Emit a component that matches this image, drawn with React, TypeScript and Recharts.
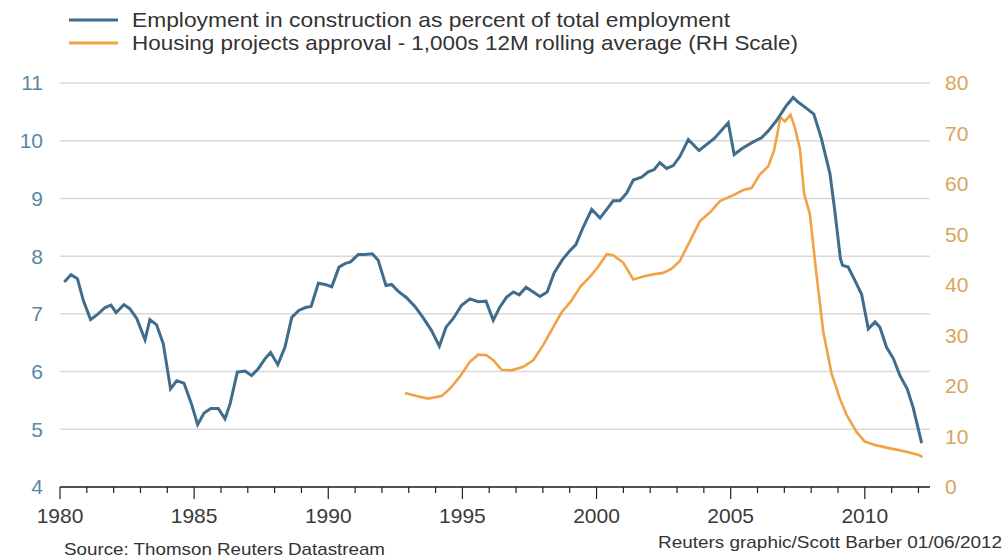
import { ComposedChart, Line, XAxis, YAxis, CartesianGrid } from 'recharts';

const BLUE = '#3f6d8b';
const ORANGE = '#f2a245';
const FONT = '"Liberation Sans", Arial, sans-serif';

// Employment in construction, % of total employment
const employmentYears = [
    1980.16, 1980.41, 1980.65, 1980.87, 1981.14, 1981.4, 1981.68, 1981.9, 1982.09, 1982.38,
    1982.6, 1982.86, 1983.17, 1983.35, 1983.6, 1983.85, 1984.12, 1984.35, 1984.62, 1984.9,
    1985.13, 1985.37, 1985.62, 1985.9, 1986.15, 1986.34, 1986.61, 1986.9, 1987.14, 1987.39,
    1987.64, 1987.85, 1988.12, 1988.39, 1988.64, 1988.9, 1989.15, 1989.36, 1989.63, 1989.88,
    1990.13, 1990.4, 1990.62, 1990.83, 1991.12, 1991.37, 1991.64, 1991.86, 1992.15, 1992.36,
    1992.61, 1992.92, 1993.23, 1993.54, 1993.85, 1994.14, 1994.39, 1994.66, 1994.97, 1995.28,
    1995.59, 1995.88, 1996.15, 1996.4, 1996.65, 1996.9, 1997.12, 1997.37, 1997.64, 1997.89,
    1998.16, 1998.42, 1998.73, 1998.98, 1999.23, 1999.5, 1999.82, 2000.13, 2000.38, 2000.62,
    2000.87, 2001.12, 2001.37, 2001.68, 2001.93, 2002.15, 2002.36, 2002.61, 2002.86, 2003.11,
    2003.42, 2003.82, 2004.39, 2004.91, 2005.13, 2005.44, 2005.84, 2006.15, 2006.4, 2006.71,
    2007.08, 2007.33, 2007.51, 2007.83, 2008.1, 2008.38, 2008.7, 2008.88, 2009.09, 2009.17,
    2009.38, 2009.63, 2009.88, 2010.13, 2010.38, 2010.56, 2010.81, 2011.06, 2011.31, 2011.58,
    2011.8, 2012.12,
];
const employmentShare = [
    7.55, 7.68, 7.61, 7.23, 6.9, 6.99, 7.11, 7.15, 7.02, 7.16,
    7.09, 6.92, 6.55, 6.9, 6.81, 6.48, 5.7, 5.84, 5.8, 5.44,
    5.08, 5.28, 5.36, 5.36, 5.18, 5.44, 5.99, 6.01, 5.93, 6.05,
    6.22, 6.33, 6.12, 6.43, 6.94, 7.06, 7.11, 7.13, 7.53, 7.51,
    7.47, 7.81, 7.87, 7.9, 8.03, 8.03, 8.04, 7.93, 7.49, 7.51,
    7.39, 7.28, 7.13, 6.93, 6.71, 6.44, 6.77, 6.92, 7.15, 7.26,
    7.21, 7.22, 6.89, 7.12, 7.29, 7.38, 7.33, 7.46, 7.38, 7.3,
    7.38, 7.71, 7.94, 8.08, 8.2, 8.5, 8.81, 8.66, 8.81, 8.96,
    8.96, 9.09, 9.32, 9.37, 9.46, 9.5, 9.62, 9.52, 9.57, 9.73,
    10.02, 9.83, 10.04, 10.31, 9.76, 9.87, 9.98, 10.05, 10.17, 10.35,
    10.61, 10.75, 10.67, 10.56, 10.46, 10.04, 9.43, 8.79, 7.96, 7.84,
    7.81, 7.58, 7.34, 6.74, 6.86, 6.77, 6.42, 6.23, 5.93, 5.7,
    5.38, 4.76,
];

// Housing projects approval, 1,000s, 12M rolling average (right scale)
const housingYears = [
    1992.86, 1993.29, 1993.72, 1994.22, 1994.54, 1994.91, 1995.28, 1995.59, 1995.9, 1996.15,
    1996.46, 1996.83, 1997.27, 1997.64, 1998.01, 1998.39, 1998.7, 1999.05, 1999.4, 1999.75,
    2000.06, 2000.38, 2000.62, 2001.0, 2001.37, 2001.74, 2002.1, 2002.48, 2002.79, 2003.1,
    2003.48, 2003.85, 2004.23, 2004.6, 2005.1, 2005.47, 2005.78, 2006.09, 2006.4, 2006.61,
    2006.76, 2006.85, 2007.02, 2007.23, 2007.39, 2007.58, 2007.74, 2007.95, 2008.2, 2008.45,
    2008.76, 2009.07, 2009.32, 2009.69, 2010.0, 2010.38, 2010.81, 2011.18, 2011.62, 2011.99,
    2012.15,
];
const housingApprovals = [
    18.6, 18.0, 17.5, 18.0, 19.5, 21.9, 24.8, 26.2, 26.1, 25.1,
    23.2, 23.1, 23.8, 25.1, 28.1, 31.7, 34.6, 36.8, 39.7, 41.6,
    43.6, 46.1, 45.9, 44.4, 41.1, 41.7, 42.1, 42.4, 43.2, 44.7,
    48.7, 52.6, 54.4, 56.6, 57.8, 58.8, 59.2, 61.9, 63.5, 66.5,
    70.5, 73.2, 72.4, 73.7, 71.2, 67.0, 58.0, 54.1, 42.0, 30.8,
    22.5, 17.5, 14.3, 10.9, 9.0, 8.3, 7.8, 7.4, 6.9, 6.4,
    5.9,
];

const yearTicks = Array.from({ length: 33 }, (_, i) => 1980 + i);
const leftTicks = [4, 5, 6, 7, 8, 9, 10, 11];
const rightTicks = [0, 10, 20, 30, 40, 50, 60, 70, 80];

const employment = employmentYears.map((year, i) => ({ year, share: employmentShare[i] }));
const housing = housingYears.map((year, i) => ({ year, approvals: housingApprovals[i] }));

// yearly minor ticks, longer ones with a label every 5 years
const YearTick = (props: any) => {
    const { x, y, payload } = props;
    const major = payload.value % 5 === 0;
    return (
        <g>
            <line x1={x} y1={y} x2={x} y2={y + (major ? 12 : 6)} stroke="#222" strokeWidth={1.2} />
            {major && (
                <text x={x} y={y + 36} textAnchor="middle" fill="#3a3a3a" fontSize={21} fontFamily={FONT}>
                    {payload.value}
                </text>
            )}
        </g>
    );
};

export default function App() {
    return (
        <div style={{ position: 'absolute', left: 0, top: 0, width: 1006, height: 560, background: '#fff' }}>
            <ComposedChart width={1006} height={560} margin={{ top: 83, right: 0, left: 0, bottom: 0 }}>
                <CartesianGrid yAxisId="left" vertical={false} stroke="#d9d9d9" strokeWidth={1.5} />
                <XAxis
                    dataKey="year"
                    type="number"
                    domain={[1980, 2012.43]}
                    ticks={yearTicks}
                    allowDataOverflow
                    height={73}
                    tickSize={0}
                    tickMargin={0}
                    tickLine={false}
                    axisLine={{ stroke: '#222', strokeWidth: 1.5 }}
                    tick={<YearTick />}
                    interval={0}
                />
                <YAxis
                    yAxisId="left"
                    domain={[4, 11]}
                    ticks={leftTicks}
                    width={60}
                    tickSize={0}
                    tickMargin={17}
                    tickLine={false}
                    axisLine={false}
                    tick={{ fill: '#5887a6', fontSize: 21, fontFamily: FONT }}
                    interval={0}
                />
                <YAxis
                    yAxisId="right"
                    orientation="right"
                    domain={[0, 80]}
                    ticks={rightTicks}
                    width={76}
                    tickSize={0}
                    tickMargin={15}
                    tickLine={false}
                    axisLine={false}
                    tick={{ fill: '#d8a55e', fontSize: 21, fontFamily: FONT }}
                    interval={0}
                />
                <Line
                    yAxisId="right"
                    data={housing}
                    dataKey="approvals"
                    type="linear"
                    stroke={ORANGE}
                    strokeWidth={2.6}
                    dot={false}
                    isAnimationActive={false}
                />
                <Line
                    yAxisId="left"
                    data={employment}
                    dataKey="share"
                    type="linear"
                    stroke={BLUE}
                    strokeWidth={3}
                    dot={false}
                    isAnimationActive={false}
                />
            </ComposedChart>
            <svg
                width={1006}
                height={560}
                style={{ position: 'absolute', left: 0, top: 0, pointerEvents: 'none' }}
                fontFamily={FONT}
            >
                <line x1={69} y1={20} x2={118} y2={20} stroke={BLUE} strokeWidth={3} />
                <line x1={69} y1={43} x2={118} y2={43} stroke={ORANGE} strokeWidth={3} />
                <text x={132} y={27} fontSize={21} fill="#333" textLength={598} lengthAdjust="spacingAndGlyphs">
                    Employment in construction as percent of total employment
                </text>
                <text x={132} y={50} fontSize={21} fill="#333" textLength={666} lengthAdjust="spacingAndGlyphs">
                    Housing projects approval - 1,000s 12M rolling average (RH Scale)
                </text>
                <text x={64} y={555} fontSize={17} fill="#333" textLength={321} lengthAdjust="spacingAndGlyphs">
                    Source: Thomson Reuters Datastream
                </text>
                <text x={658} y={548} fontSize={17} fill="#333" textLength={344} lengthAdjust="spacingAndGlyphs">
                    Reuters graphic/Scott Barber 01/06/2012
                </text>
            </svg>
        </div>
    );
}
